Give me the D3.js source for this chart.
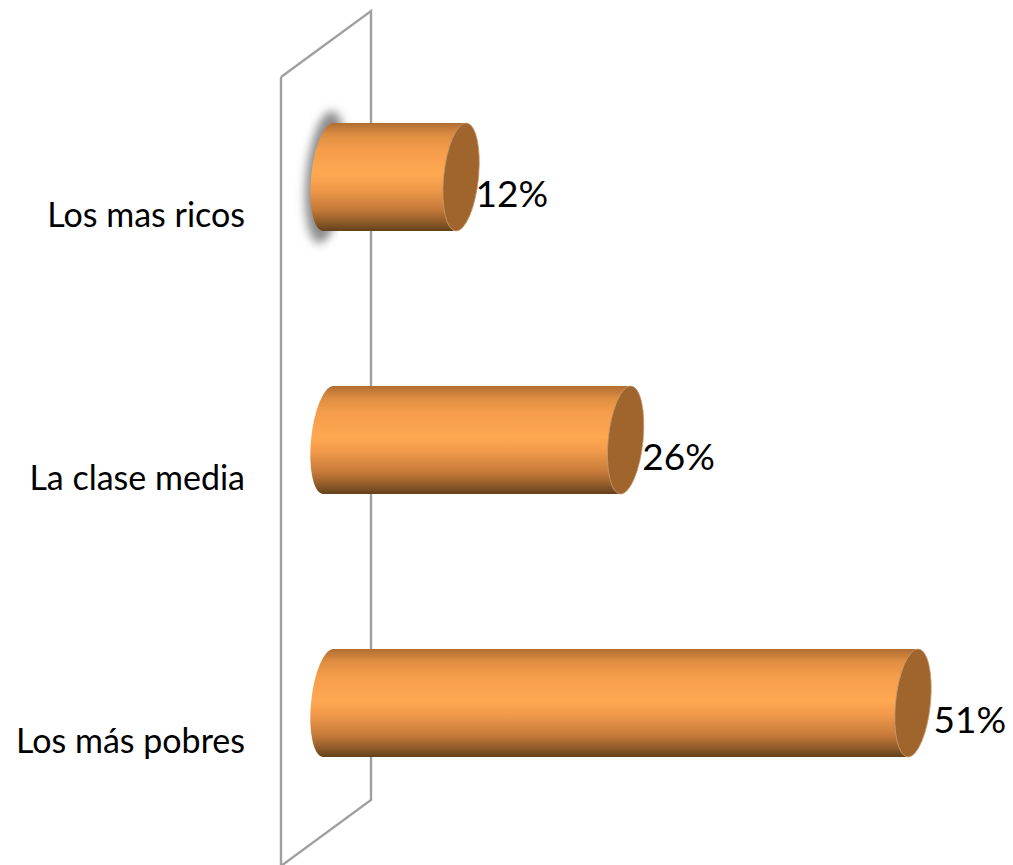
<!DOCTYPE html>
<html><head><meta charset="utf-8">
<script src="https://cdnjs.cloudflare.com/ajax/libs/d3/7.8.5/d3.min.js"></script>
<style>html,body{margin:0;padding:0;background:#fff}svg{display:block}</style>
</head><body><div id="c"></div>
<script>
const categories = ["Los mas ricos", "La clase media", "Los más pobres"];
const values = [12, 26.2, 51];
const W = 1013, H = 865;
const FONT = "Lato,'Noto Sans',sans-serif";

const svg = d3.select("#c").append("svg").attr("width", W).attr("height", H);
const defs = svg.append("defs");
const grad = defs.append("linearGradient").attr("id", "cyl").attr("x1", 0).attr("y1", 0).attr("x2", 0).attr("y2", 1);
[[0, "#b06e32"], [0.12, "#e08f42"], [0.25, "#f59d4a"], [0.48, "#ffa852"], [0.62, "#ee9849"],
 [0.8, "#c67a39"], [0.92, "#8e5a28"], [1, "#63401c"]].forEach(([o, c]) =>
  grad.append("stop").attr("offset", o).attr("stop-color", c));
defs.append("filter").attr("id", "blur").attr("x", "-100%").attr("y", "-30%").attr("width", "300%").attr("height", "160%")
  .append("feGaussianBlur").attr("stdDeviation", 5);

const x = d3.scaleLinear().domain([0, 51]).range([322, 913]);
const labelX = d3.scaleLinear().domain([12, 51]).range([475.5, 933.5]);
const y = d3.scalePoint().domain(categories).range([177, 703]);
const rx = 17.5, ry = 54, skew = -5.3, baseShift = 6.5;

// side wall
svg.append("path")
  .attr("d", d3.line()([[281, 77], [371, 11], [371, 800], [281, 866], [281, 77]]))
  .attr("fill", "none").attr("stroke", "#a0a0a0").attr("stroke-width", 2.4);

// glow behind the first bar
svg.append("ellipse")
  .attr("transform", `translate(${x(0) + baseShift},${y(categories[0])}) skewX(${skew})`)
  .attr("cx", -3).attr("rx", rx + 2).attr("ry", ry + 12)
  .attr("fill", "#8c8c8c").attr("filter", "url(#blur)");

const bars = svg.selectAll("g.bar").data(categories).join("g").attr("class", "bar");

// cylinder body: left rounded end through to the far edge
bars.append("path")
  .attr("transform", c => `translate(${x(0) + baseShift},${y(c)}) skewX(${skew})`)
  .attr("d", (c, i) => {
    const w = x(values[i]) - x(0) - baseShift;
    return `M0,${-ry}L${w},${-ry}L${w},${ry}L0,${ry}A${rx},${ry} 0 0 1 0,${-ry}Z`;
  })
  .attr("fill", "url(#cyl)");

// end cap
bars.append("ellipse")
  .attr("transform", (c, i) => `translate(${x(values[i])},${y(c)}) skewX(${skew})`)
  .attr("rx", rx).attr("ry", ry)
  .attr("fill", "#a0652d").attr("stroke", "#c79a70").attr("stroke-width", 0.8);

bars.append("text")
  .attr("x", (c, i) => labelX(values[i]))
  .attr("y", c => y(c) + 17)
  .attr("dy", "0.35em")
  .attr("font-family", FONT).attr("font-size", 37).attr("fill", "#000")
  .text((c, i) => Math.round(values[i]) + "%");

bars.append("text")
  .attr("x", 245)
  .attr("y", c => y(c) + 38)
  .attr("dy", "0.35em")
  .attr("text-anchor", "end")
  .attr("font-family", FONT).attr("font-size", 34).attr("fill", "#000")
  .text(c => c);
</script></body></html>
